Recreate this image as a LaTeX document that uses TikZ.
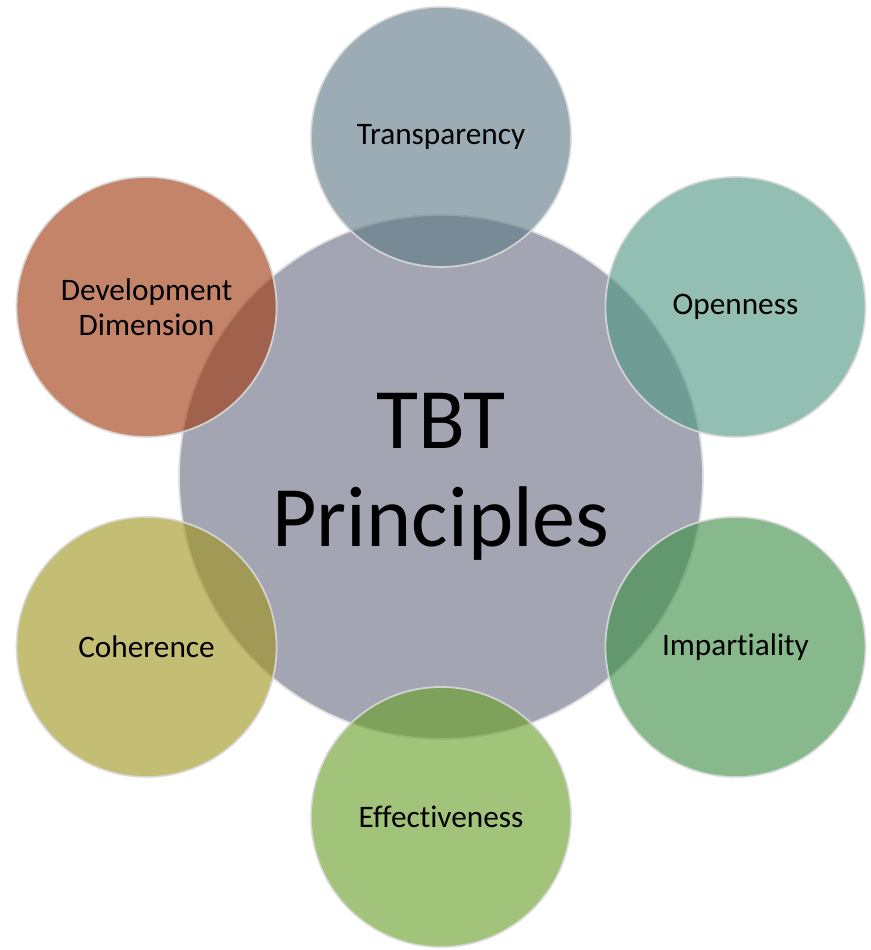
\documentclass[tikz,border=0pt]{standalone}
\usepackage{fontspec}
\setmainfont{Carlito}[Ligatures={NoCommon,NoContextual}]
\usetikzlibrary{positioning}
%
\definecolor{hubgray}{RGB}{163,166,178}
\definecolor{transpblue}{RGB}{94,121,134}
\definecolor{openteal}{RGB}{80,150,130}
\definecolor{impartgreen}{RGB}{61,142,69}
\definecolor{effectgreen}{RGB}{104,158,40}
\definecolor{coheryellow}{RGB}{160,148,30}
\definecolor{devorange}{RGB}{160,57,15}
%
\tikzset{
  hub/.style={circle, inner sep=0pt, minimum size=10.48cm, fill=hubgray,
    draw=white!88!black, line width=1pt, align=center,
    font=\fontsize{49}{56}\selectfont},
  principle/.style={circle, inner sep=0pt, minimum size=5.2cm, fill=#1,
    fill opacity=0.62, text opacity=1, draw=white!85!black, draw opacity=0.9,
    line width=1pt, align=center, font=\fontsize{17.8}{20}\selectfont},
}
%
\begin{document}
\begin{tikzpicture}%
%
\def\orbitRadius{6.8}
\useasboundingbox (0,0) rectangle (17.42,19);
%
\node [hub] (tbt) at (8.82,9.46) {TBT\\Principles};
%
\node [principle=transpblue]  (transparency)  at ([shift={(90:\orbitRadius)}]tbt)  {Transparency};
\node [principle=openteal]    (openness)      at ([shift={(30:\orbitRadius)}]tbt)  {Openness};
\node [principle=impartgreen] (impartiality)  at ([shift={(-30:\orbitRadius)}]tbt) {Impartiality};
\node [principle=effectgreen] (effectiveness) at ([shift={(-90:\orbitRadius)}]tbt) {Effectiveness};
\node [principle=coheryellow] (coherence)     at ([shift={(210:\orbitRadius)}]tbt) {Coherence};
\node [principle=devorange]   (development)   at ([shift={(150:\orbitRadius)}]tbt) {Development\\Dimension};
%
\end{tikzpicture}
\end{document}
